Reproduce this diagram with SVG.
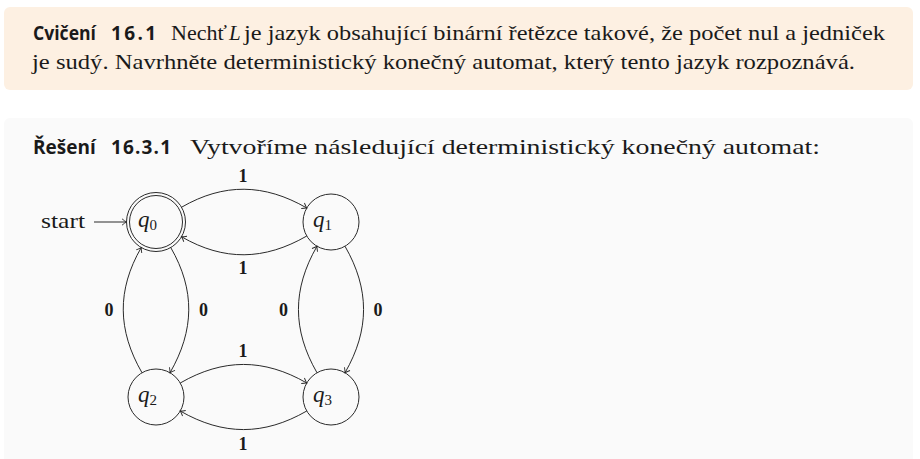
<svg xmlns="http://www.w3.org/2000/svg" width="920" height="459" viewBox="0 0 920 459">
  <style>
    .hd { font-family: "Open Sans", "Liberation Sans", sans-serif; font-weight: 700; font-size: 19px; fill: #1a1a1a; }
    .tx { font-family: "Liberation Serif", "DejaVu Serif", serif; font-size: 21px; fill: #1a1a1a; }
    .it { font-style: italic; }
    .state { fill: none; stroke: #2a2a2a; stroke-width: 1; }
    .name { font-family: "Liberation Serif", "DejaVu Serif", serif; font-style: italic; font-size: 23px; fill: #1a1a1a; }
    .sub { font-family: "Liberation Serif", "DejaVu Serif", serif; font-size: 15px; fill: #1a1a1a; }
    .edge { fill: none; stroke: #2a2a2a; stroke-width: 1; }
    .lbl { font-family: "Liberation Serif", "DejaVu Serif", serif; font-weight: 700; font-size: 18px; fill: #1a1a1a; text-anchor: middle; }
  </style>
  <defs>
    <marker id="tip" markerWidth="10" markerHeight="10" refX="0" refY="0" viewBox="-6 -5 8 10" orient="auto" markerUnits="userSpaceOnUse">
      <path d="M -4.5 -3.2 Q -1.6 -0.8 0 0 Q -1.6 0.8 -4.5 3.2" fill="none" stroke="#2a2a2a" stroke-width="0.9"/>
    </marker>
  </defs>

  <rect x="0" y="0" width="920" height="459" fill="#ffffff"/>

  <!-- exercise box -->
  <g id="exercise">
    <rect x="4" y="7" width="909" height="83" rx="6" fill="#fdf0e2"/>
    <text class="hd" x="33" y="39.5" textLength="63" lengthAdjust="spacingAndGlyphs">Cvičení</text>
    <text class="hd" x="111" y="39.5" textLength="45" lengthAdjust="spacing">16.1</text>
    <text class="tx" x="171" y="39.5" textLength="56" lengthAdjust="spacingAndGlyphs">Nechť</text>
    <text class="tx it" x="229" y="39.5">L</text>
    <text class="tx" x="244" y="39.5" textLength="641" lengthAdjust="spacingAndGlyphs">je jazyk obsahující binární řetězce takové, že počet nul a jedniček</text>
    <text class="tx" x="32" y="68.5" textLength="823" lengthAdjust="spacingAndGlyphs">je sudý. Navrhněte deterministický konečný automat, který tento jazyk rozpoznává.</text>
  </g>

  <!-- solution box -->
  <g id="solution">
    <rect x="4" y="118" width="909" height="350" rx="6" fill="#fafafa"/>
    <text class="hd" x="33" y="153.5">Řešení</text>
    <text class="hd" x="111" y="153.5" textLength="60" lengthAdjust="spacing">16.3.1</text>
    <text class="tx" x="190" y="153.5" textLength="630" lengthAdjust="spacingAndGlyphs">Vytvoříme následující deterministický konečný automat:</text>
  </g>

  <!-- states -->
  <g id="q0">
    <circle class="state" cx="156" cy="222" r="29.5"/>
    <circle class="state" cx="156" cy="222" r="26.5"/>
    <text x="138" y="227"><tspan class="name">q</tspan><tspan class="sub" dy="3">0</tspan></text>
  </g>
  <g id="q1">
    <circle class="state" cx="331" cy="222" r="28"/>
    <text x="313" y="227"><tspan class="name">q</tspan><tspan class="sub" dy="3">1</tspan></text>
  </g>
  <g id="q2">
    <circle class="state" cx="156" cy="397" r="28"/>
    <text x="138" y="402"><tspan class="name">q</tspan><tspan class="sub" dy="3">2</tspan></text>
  </g>
  <g id="q3">
    <circle class="state" cx="331" cy="397" r="28"/>
    <text x="313" y="402"><tspan class="name">q</tspan><tspan class="sub" dy="3">3</tspan></text>
  </g>

  <!-- initial marker -->
  <g id="start">
    <text class="tx" x="41" y="228" font-size="23" textLength="44" lengthAdjust="spacingAndGlyphs">start</text>
  </g>

  <!-- transitions -->
  <g id="edges">
    <path class="edge" d="M94 222 L126.5 222" marker-end="url(#tip)"/>
    <path class="edge" d="M181.5 207.25 C223.9 182.75 264.3 183.5 306.75 208" marker-end="url(#tip)"/>
    <path class="edge" d="M306.75 236 C264.3 260.5 223.9 261.25 181.5 236.75" marker-end="url(#tip)"/>
    <path class="edge" d="M180.25 383 C223.15 358.25 263.85 358.25 306.75 383" marker-end="url(#tip)"/>
    <path class="edge" d="M306.75 411 C263.85 435.75 223.15 435.75 180.25 411" marker-end="url(#tip)"/>
    <path class="edge" d="M170.75 247.55 C195.25 290 194.5 330.3 170 372.75" marker-end="url(#tip)"/>
    <path class="edge" d="M142 372.75 C117.5 330.3 116.75 290 141.25 247.55" marker-end="url(#tip)"/>
    <path class="edge" d="M345 246.25 C369.75 289.1 369.75 329.9 345 372.75" marker-end="url(#tip)"/>
    <path class="edge" d="M317 372.75 C292.25 329.9 292.25 289.1 317 246.25" marker-end="url(#tip)"/>

    <text class="lbl" x="243" y="182">1</text>
    <text class="lbl" x="243" y="274">1</text>
    <text class="lbl" x="243" y="357">1</text>
    <text class="lbl" x="243" y="449.5">1</text>
    <text class="lbl" x="109" y="316">0</text>
    <text class="lbl" x="203.5" y="316">0</text>
    <text class="lbl" x="283.5" y="316">0</text>
    <text class="lbl" x="378" y="316">0</text>
  </g>
</svg>
